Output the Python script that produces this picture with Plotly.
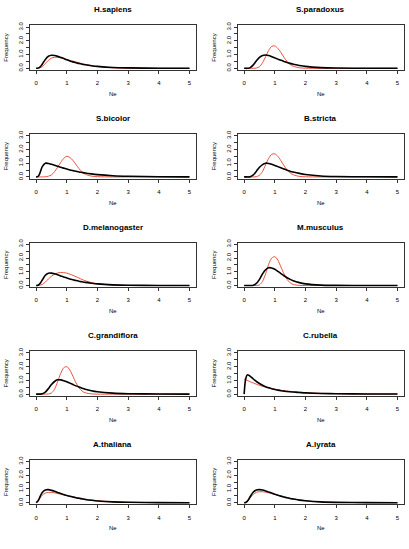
import plotly.graph_objects as go

W, H = 409, 549

NE = [0, 0.05, 0.1, 0.15, 0.2, 0.3, 0.4, 0.5, 0.6, 0.7, 0.8, 0.9, 1.0, 1.1, 1.2, 1.3,
      1.4, 1.5, 1.6, 1.8, 2.0, 2.5, 3.0, 4.0, 5.0]

SPECIES = ["H.sapiens", "S.paradoxus", "S.bicolor", "B.stricta", "D.melanogaster",
           "M.musculus", "C.grandiflora", "C.rubella", "A.thaliana", "A.lyrata"]

h_sapiens_black = [0, 0.01, 0.05, 0.15, 0.3, 0.65, 0.88, 0.95, 0.93, 0.87, 0.79, 0.71, 0.62, 0.54, 0.47, 0.41, 0.35, 0.30, 0.26, 0.19, 0.14, 0.06, 0.03, 0.01, 0]
h_sapiens_red = [0, 0, 0.02, 0.06, 0.12, 0.35, 0.58, 0.75, 0.80, 0.80, 0.76, 0.71, 0.65, 0.58, 0.52, 0.46, 0.40, 0.34, 0.29, 0.20, 0.13, 0.04, 0.015, 0.005, 0]

s_paradoxus_black = [0, 0, 0, 0.01, 0.05, 0.25, 0.55, 0.80, 0.94, 0.97, 0.93, 0.85, 0.76, 0.67, 0.58, 0.50, 0.42, 0.36, 0.30, 0.21, 0.14, 0.05, 0.02, 0.005, 0]
s_paradoxus_red = [0, 0, 0, 0, 0, 0, 0.02, 0.12, 0.40, 0.85, 1.30, 1.60, 1.63, 1.45, 1.15, 0.80, 0.50, 0.28, 0.15, 0.04, 0.01, 0, 0, 0, 0]

s_bicolor_black = [0, 0.02, 0.15, 0.45, 0.75, 1.0, 0.98, 0.92, 0.85, 0.78, 0.71, 0.64, 0.57, 0.51, 0.46, 0.41, 0.36, 0.32, 0.28, 0.22, 0.17, 0.09, 0.05, 0.015, 0.005]
s_bicolor_red = [0, 0, 0, 0, 0, 0.01, 0.05, 0.15, 0.38, 0.70, 1.05, 1.35, 1.50, 1.42, 1.20, 0.90, 0.60, 0.36, 0.20, 0.06, 0.02, 0, 0, 0, 0]

b_stricta_black = [0, 0, 0, 0, 0.02, 0.15, 0.42, 0.70, 0.90, 1.0, 0.98, 0.92, 0.84, 0.75, 0.66, 0.57, 0.49, 0.42, 0.36, 0.26, 0.18, 0.07, 0.03, 0.01, 0]
b_stricta_red = [0, 0, 0, 0, 0, 0, 0.02, 0.12, 0.40, 0.88, 1.35, 1.65, 1.68, 1.50, 1.18, 0.82, 0.52, 0.30, 0.16, 0.04, 0.01, 0, 0, 0, 0]

d_melanogaster_black = [0, 0.01, 0.08, 0.22, 0.40, 0.75, 0.90, 0.90, 0.85, 0.78, 0.70, 0.62, 0.55, 0.48, 0.42, 0.36, 0.31, 0.27, 0.23, 0.17, 0.12, 0.05, 0.02, 0.005, 0]
d_melanogaster_red = [0, 0, 0.01, 0.04, 0.08, 0.25, 0.48, 0.68, 0.82, 0.91, 0.95, 0.94, 0.90, 0.83, 0.74, 0.64, 0.54, 0.44, 0.35, 0.22, 0.13, 0.03, 0.01, 0, 0]

m_musculus_black = [0, 0, 0, 0, 0, 0.02, 0.15, 0.45, 0.85, 1.15, 1.30, 1.28, 1.18, 1.03, 0.87, 0.71, 0.57, 0.45, 0.35, 0.21, 0.12, 0.03, 0.01, 0, 0]
m_musculus_red = [0, 0, 0, 0, 0, 0, 0, 0.05, 0.30, 0.85, 1.55, 2.00, 2.10, 1.85, 1.35, 0.85, 0.45, 0.20, 0.08, 0.01, 0, 0, 0, 0, 0]

c_grandiflora_black = [0, 0, 0, 0, 0.02, 0.15, 0.40, 0.70, 0.92, 1.04, 1.04, 0.98, 0.90, 0.80, 0.70, 0.60, 0.51, 0.43, 0.36, 0.25, 0.17, 0.07, 0.03, 0.01, 0]
c_grandiflora_red = [0, 0, 0, 0, 0, 0, 0.01, 0.08, 0.35, 0.90, 1.50, 1.92, 2.00, 1.75, 1.30, 0.82, 0.45, 0.22, 0.10, 0.02, 0, 0, 0, 0, 0]

c_rubella_black = [0, 1.1, 1.4, 1.38, 1.3, 1.1, 0.92, 0.77, 0.64, 0.54, 0.46, 0.39, 0.34, 0.29, 0.25, 0.22, 0.19, 0.17, 0.15, 0.12, 0.09, 0.05, 0.03, 0.01, 0.005]
c_rubella_red = [1.1, 1.05, 1.0, 0.95, 0.9, 0.81, 0.72, 0.64, 0.57, 0.51, 0.45, 0.40, 0.36, 0.32, 0.28, 0.25, 0.22, 0.20, 0.18, 0.14, 0.11, 0.06, 0.035, 0.012, 0.005]

a_thaliana_black = [0, 0.1, 0.3, 0.55, 0.75, 0.93, 0.95, 0.90, 0.83, 0.75, 0.67, 0.60, 0.53, 0.47, 0.41, 0.36, 0.32, 0.28, 0.24, 0.18, 0.13, 0.06, 0.03, 0.01, 0]
a_thaliana_red = [0, 0.08, 0.25, 0.42, 0.55, 0.70, 0.75, 0.75, 0.72, 0.67, 0.62, 0.57, 0.52, 0.47, 0.42, 0.38, 0.34, 0.30, 0.26, 0.20, 0.15, 0.07, 0.03, 0.01, 0]

a_lyrata_black = [0, 0.02, 0.1, 0.25, 0.45, 0.78, 0.93, 0.95, 0.92, 0.86, 0.78, 0.70, 0.62, 0.55, 0.48, 0.42, 0.36, 0.31, 0.27, 0.19, 0.14, 0.06, 0.025, 0.005, 0]
a_lyrata_red = [0, 0.02, 0.08, 0.2, 0.36, 0.62, 0.76, 0.80, 0.80, 0.77, 0.72, 0.66, 0.60, 0.54, 0.48, 0.42, 0.37, 0.32, 0.28, 0.20, 0.14, 0.06, 0.02, 0.005, 0]

BLACK_SERIES = [h_sapiens_black, s_paradoxus_black, s_bicolor_black, b_stricta_black,
                d_melanogaster_black, m_musculus_black, c_grandiflora_black,
                c_rubella_black, a_thaliana_black, a_lyrata_black]
RED_SERIES = [h_sapiens_red, s_paradoxus_red, s_bicolor_red, b_stricta_red,
              d_melanogaster_red, m_musculus_red, c_grandiflora_red,
              c_rubella_red, a_thaliana_red, a_lyrata_red]

X_TICKS = [0, 1, 2, 3, 4, 5]
Y_TICKS = [0, 0.5, 1.0, 1.5, 2.0, 2.5, 3.0]
Y_TICKTEXT = ["0.0", "", "1.0", "", "2.0", "", "3.0"]

FONT = "Liberation Sans, Arial, Helvetica, sans-serif"
RED = "rgb(236,78,58)"

fig = go.Figure()
layout = dict(
    width=W, height=H, margin=dict(l=0, r=0, t=0, b=0),
    paper_bgcolor="white", plot_bgcolor="white", showlegend=False,
    font=dict(family=FONT, size=6, color="black"),
)
annotations = []

ROW_PITCH = 109.8
BOX_TOP0, BOX_BOT0 = 21.7, 66.7
COL_LEFT = [30.0, 238.0]
BOX_W = 165.6

for k, name in enumerate(SPECIES):
    r, c = divmod(k, 2)
    top = BOX_TOP0 + r * ROW_PITCH
    bot = BOX_BOT0 + r * ROW_PITCH
    left = COL_LEFT[c]
    right = left + BOX_W
    n = k + 1
    xa = "x" if n == 1 else f"x{n}"
    ya = "y" if n == 1 else f"y{n}"
    fig.add_trace(go.Scatter(x=NE, y=RED_SERIES[k], mode="lines", xaxis=xa, yaxis=ya,
                             line=dict(color=RED, width=1, shape="spline", smoothing=0.8),
                             hoverinfo="skip"))
    fig.add_trace(go.Scatter(x=NE, y=BLACK_SERIES[k], mode="lines", xaxis=xa, yaxis=ya,
                             line=dict(color="black", width=1.6, shape="spline", smoothing=0.8),
                             hoverinfo="skip"))
    layout["xaxis" if n == 1 else f"xaxis{n}"] = dict(
        domain=[left / W, right / W], anchor=ya, range=[-0.2, 5.2],
        tickmode="array", tickvals=X_TICKS, ticktext=[str(t) for t in X_TICKS],
        ticks="outside", ticklen=3, tickwidth=0.8, tickcolor="#333",
        showline=True, linecolor="#333", linewidth=1, mirror=True,
        showgrid=False, zeroline=False, ticklabelstandoff=4,
        tickfont=dict(size=6, family=FONT, color="black"),
    )
    layout["yaxis" if n == 1 else f"yaxis{n}"] = dict(
        domain=[1 - bot / H, 1 - top / H], anchor=xa, range=[-0.12, 3.12],
        tickmode="array", tickvals=Y_TICKS, ticktext=Y_TICKTEXT, tickangle=-90,
        ticks="outside", ticklen=3, tickwidth=0.8, tickcolor="#333",
        showline=True, linecolor="#333", linewidth=1, mirror=True,
        showgrid=False, zeroline=False, ticklabelstandoff=1,
        tickfont=dict(size=6, family=FONT, color="black"),
    )
    cx = (left + right) / 2
    annotations.append(dict(text=f"<b>{name}</b>", x=cx / W, y=1 - 6 / H - r * ROW_PITCH / H,
                            xref="paper", yref="paper", showarrow=False,
                            xanchor="center", yanchor="middle",
                            font=dict(size=8, family=FONT, color="black")))
    annotations.append(dict(text="Ne", x=cx / W, y=1 - (91 + r * ROW_PITCH) / H,
                            xref="paper", yref="paper", showarrow=False,
                            xanchor="center", yanchor="middle",
                            font=dict(size=6, family=FONT, color="black")))
    annotations.append(dict(text="Frequency", x=(left - 24) / W, y=1 - ((top + bot) / 2) / H,
                            xref="paper", yref="paper", showarrow=False, textangle=-90,
                            xanchor="center", yanchor="middle",
                            font=dict(size=6, family=FONT, color="black")))

layout["annotations"] = annotations
fig.update_layout(**layout)
fig.write_html("out.html")
